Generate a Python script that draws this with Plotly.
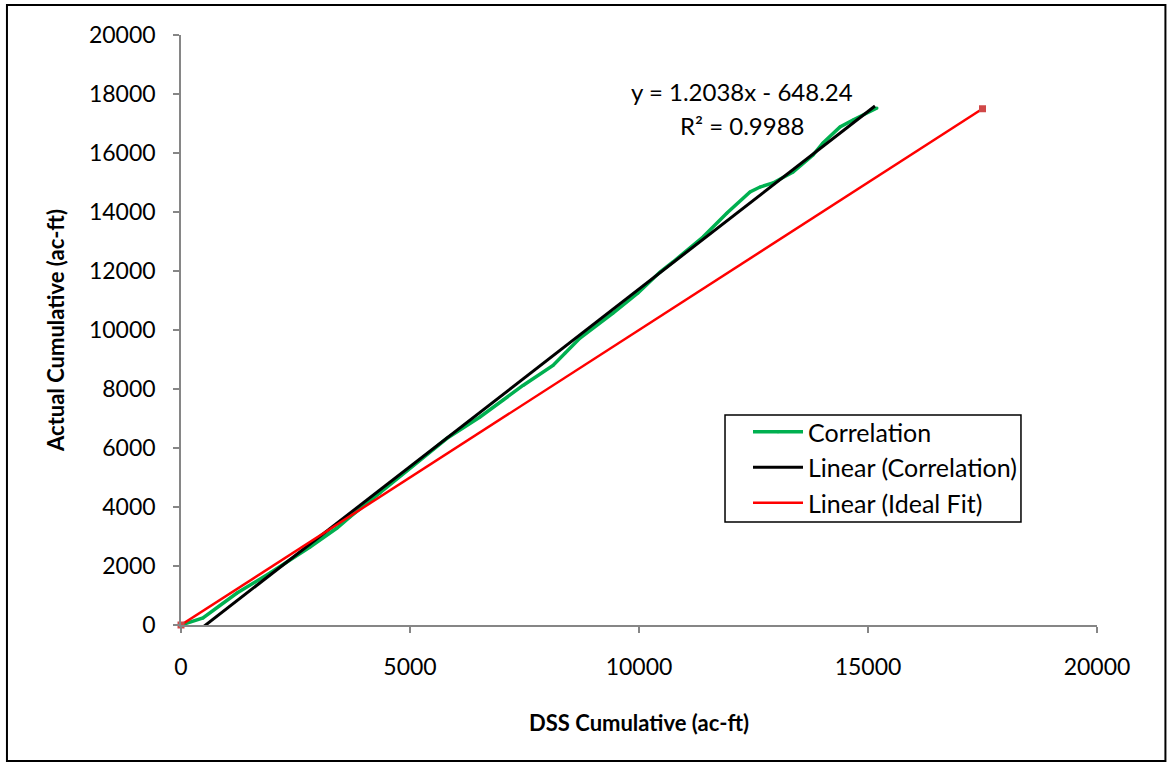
import plotly.graph_objects as go

# Data
corr_x = [0, 480, 1223, 1943, 2817, 3406, 3690, 4345, 5066, 5808, 6528, 7031, 7467, 8122, 8384,
          8712, 9432, 9978, 10459, 10742, 11397, 11921, 12424, 12642, 12926, 13362, 13799, 14017,
          14389, 14672, 15197]
corr_y = [0, 237, 1085, 1763, 2644, 3288, 3661, 4475, 5400, 6330, 7051, 7627, 8120, 8800, 9220,
          9729, 10576, 11254, 11966, 12305, 13153, 13966, 14678, 14847, 14983, 15356, 15932, 16339,
          16881, 17119, 17525]
ideal_x = [0, 17500]
ideal_y = [0, 17500]
slope = 1.2038
intercept = -648.24
r2 = 0.9988
trend_x = [0, 15153]
trend_y = [slope * v + intercept for v in trend_x]
tick_vals_x = [0, 5000, 10000, 15000, 20000]
tick_vals_y = [0, 2000, 4000, 6000, 8000, 10000, 12000, 14000, 16000, 18000, 20000]

FONT = "Lato, 'Open Sans', sans-serif"
AX = "#868686"

fig = go.Figure()
fig.add_trace(go.Scatter(x=corr_x, y=corr_y, mode="lines+markers", name="Correlation",
                         line=dict(color="#00B050", width=3.5), marker=dict(size=3, color="#00B050")))
fig.add_trace(go.Scatter(x=trend_x, y=trend_y, mode="lines", name="Linear (Correlation)",
                         line=dict(color="black", width=3)))
fig.add_trace(go.Scatter(x=ideal_x, y=ideal_y, mode="lines", name="Linear (Ideal Fit)",
                         line=dict(color="#FF0000", width=2.5)))
fig.add_trace(go.Scatter(x=ideal_x, y=ideal_y, mode="markers", showlegend=False,
                         marker=dict(symbol="square", size=7, color="#D04848"), cliponaxis=False))

fig.add_annotation(x=12249, y=18068, text=f"y = {slope}x - {abs(intercept)}", showarrow=False,
                   font=dict(size=24, color="black", family=FONT))
fig.add_annotation(x=12249, y=16949, text=f"R² = {r2}", showarrow=False,
                   font=dict(size=24, color="black", family=FONT))

# outer chart frame
fig.add_shape(type="rect", xref="paper", yref="paper", x0=-0.190, x1=1.0747, y0=-0.2305, y1=1.0508,
              line=dict(color="black", width=2))
# legend frame
fig.add_shape(type="rect", xref="paper", yref="paper", x0=0.5939, x1=0.917, y0=0.1746, y1=0.3559,
              line=dict(color="black", width=1.5), fillcolor="white", layer="above")

fig.update_layout(
    width=1168, height=764,
    margin=dict(l=181, r=71, t=35, b=139),
    paper_bgcolor="white", plot_bgcolor="white",
    font=dict(family=FONT, size=23, color="black"),
    showlegend=True,
    legend=dict(x=0.619, y=0.366, xanchor="left", yanchor="top",
                borderwidth=0, bgcolor="rgba(0,0,0,0)",
                font=dict(size=25, family=FONT), itemwidth=50),
)
fig.update_xaxes(range=[0, 20000], tickvals=tick_vals_x, tickformat="d", showgrid=False, zeroline=False,
                 showline=True, linecolor=AX, linewidth=1.5, ticks="outside", ticklen=6,
                 tickcolor=AX, tickwidth=1.5, ticklabelstandoff=15,
                 title=dict(text="<b>DSS Cumulative (ac-ft)</b>", font=dict(size=22), standoff=36))
fig.update_yaxes(range=[0, 20000], tickvals=tick_vals_y, tickformat="d", showgrid=False, zeroline=False,
                 showline=True, linecolor=AX, linewidth=1.5, ticks="outside", ticklen=6,
                 tickcolor=AX, tickwidth=1.5, ticklabelstandoff=13,
                 title=dict(text="<b>Actual Cumulative (ac-ft)</b>", font=dict(size=22), standoff=18))

fig.write_html("out.html")
